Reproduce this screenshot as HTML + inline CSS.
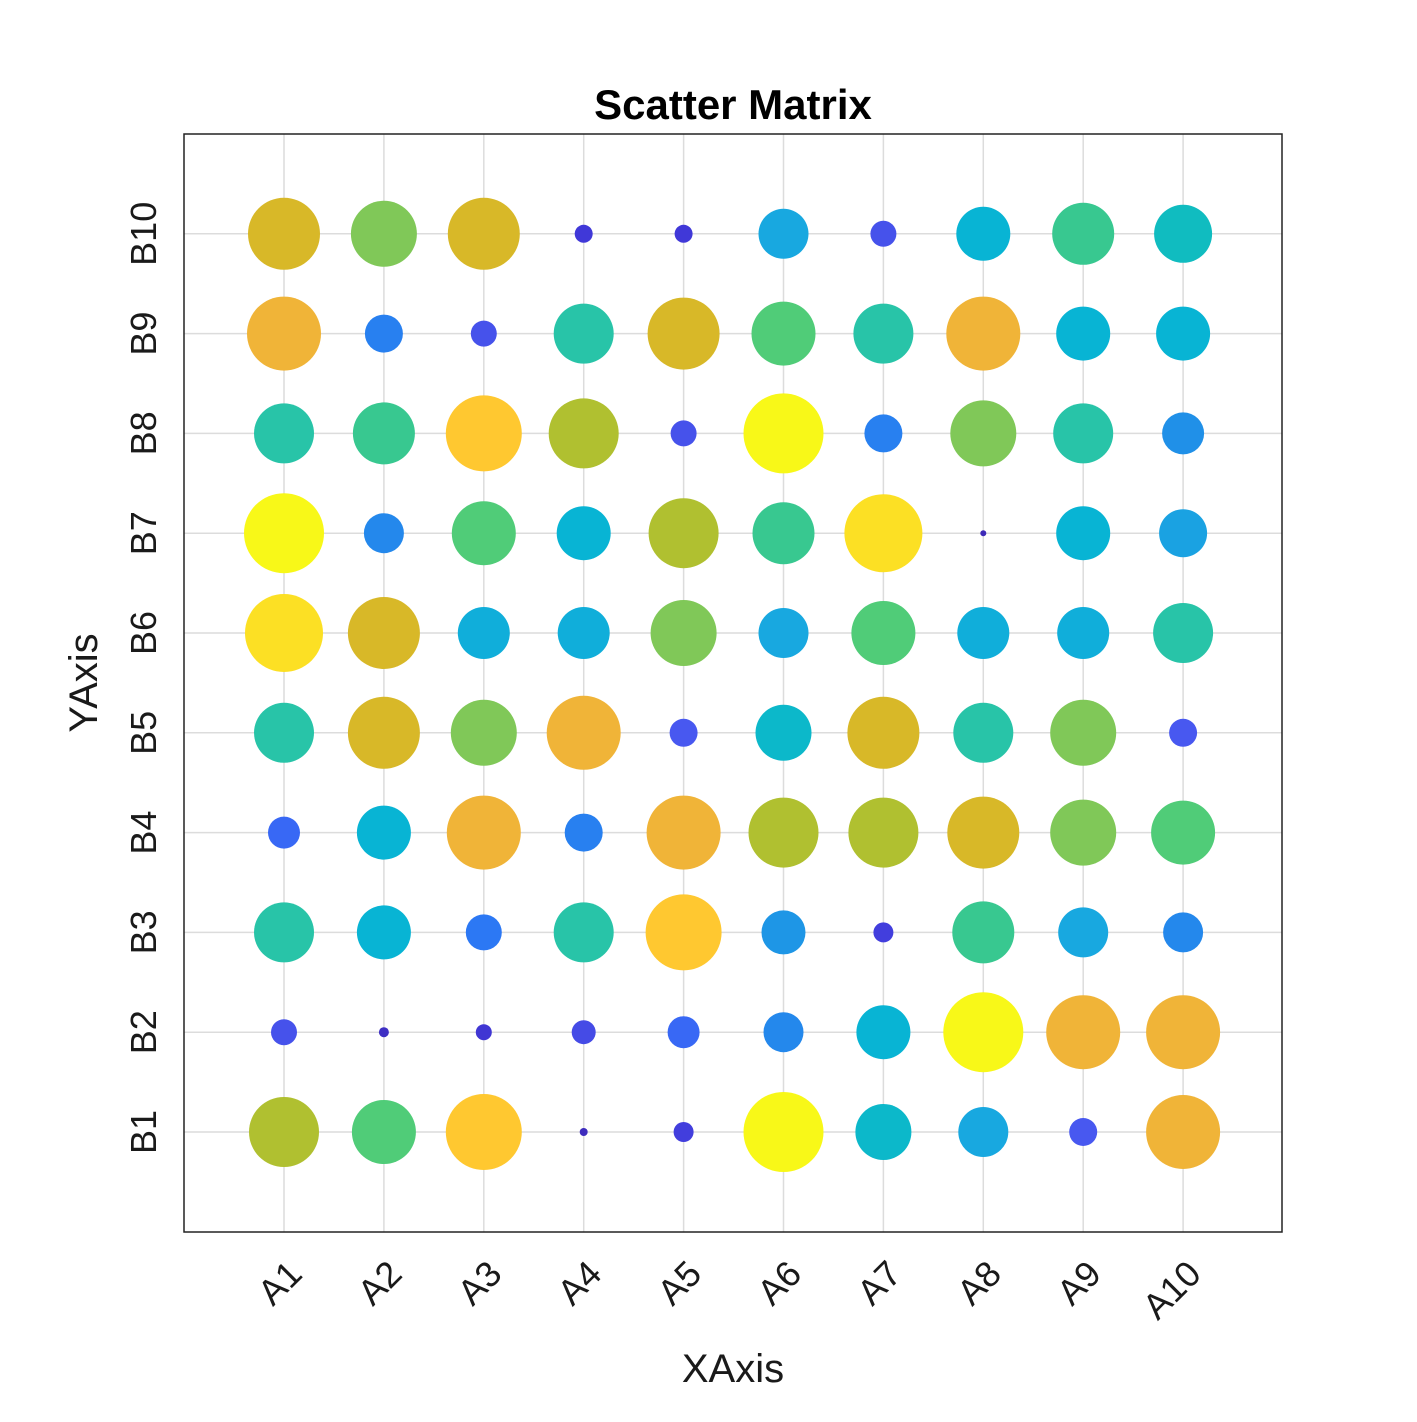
<!DOCTYPE html>
<html><head><meta charset="utf-8"><style>
html,body{margin:0;padding:0;background:#fff}
svg text{font-family:"Liberation Sans",Arial,sans-serif;fill:#1a1a1a}
</style></head><body>
<svg id="chart" width="1417" height="1417" viewBox="0 0 1417 1417" xmlns="http://www.w3.org/2000/svg">
<rect width="1417" height="1417" fill="#fff"/>
<g id="grid"></g>
<g id="marks"></g>
<rect x="184" y="134" width="1098" height="1098" fill="none" stroke="#222" stroke-width="1.5"/>
<g id="xticks"></g>
<g id="yticks"></g>
<text x="733" y="119" text-anchor="middle" font-size="42" font-weight="bold" style="fill:#000">Scatter Matrix</text>
<text x="733" y="1382" text-anchor="middle" font-size="40">XAxis</text>
<text x="0" y="0" text-anchor="middle" font-size="40" transform="translate(97,683) rotate(-90)">YAxis</text>
</svg>
<script>
const xCats = ["A1","A2","A3","A4","A5","A6","A7","A8","A9","A10"];
const yCats = ["B1","B2","B3","B4","B5","B6","B7","B8","B9","B10"];
// values per row B1..B10, columns A1..A10 (0..40 scale)
const rowB1  = [35,32,38,4,10,40,28,25,14,37];
const rowB2  = [13,5,8,12,16,20,27,40,37,37];
const rowB3  = [30,27,18,30,38,22,10,31,25,20];
const rowB4  = [16,27,37,19,37,35,35,36,33,32];
const rowB5  = [30,36,33,37,14,28,36,30,33,14];
const rowB6  = [39,36,26,26,33,25,32,26,26,30];
const rowB7  = [40,20,32,27,35,31,39,3,27,24];
const rowB8  = [30,31,38,35,13,40,19,33,30,21];
const rowB9  = [37,19,13,30,36,32,30,37,27,27];
const rowB10 = [36,33,36,9,9,25,13,27,31,29];
const rows = [rowB1,rowB2,rowB3,rowB4,rowB5,rowB6,rowB7,rowB8,rowB9,rowB10];

const NS="http://www.w3.org/2000/svg";
const xPos = i => 284 + i*99.9;
const yPos = j => 1132 - j*99.8;
const rScale = v => Math.max(3, v);
const stops=[[3,"#3d2ab8"],[9,"#4038d8"],[14,"#4858f0"],[17,"#3070f8"],[21,"#2090e8"],[25,"#18a8e0"],[27,"#08b4d4"],[29,"#10bcc0"],[30,"#28c4a8"],[31,"#38c890"],[32,"#50cc78"],[33,"#80c858"],[35,"#b0c030"],[36,"#d8b828"],[37,"#f0b438"],[38,"#ffc830"],[40,"#f8f818"]];
function hex(h){return [1,3,5].map(i=>parseInt(h.substr(i,2),16));}
function color(v){
  if(v<=stops[0][0])return stops[0][1];
  for(let k=1;k<stops.length;k++){
    if(v<=stops[k][0]){
      const a=stops[k-1],b=stops[k],t=(v-a[0])/(b[0]-a[0]);
      const ca=hex(a[1]),cb=hex(b[1]);
      return "rgb("+ca.map((c,i)=>Math.round(c+(cb[i]-c)*t)).join(",")+")";
    }
  }
  return stops[stops.length-1][1];
}
const grid=document.getElementById("grid");
for(let i=0;i<10;i++){
  const l=document.createElementNS(NS,"line");
  l.setAttribute("x1",xPos(i));l.setAttribute("x2",xPos(i));l.setAttribute("y1",134);l.setAttribute("y2",1232);
  l.setAttribute("stroke","#dcdcdc");l.setAttribute("stroke-width","1.5");
  
  
  grid.appendChild(l);
  const h=document.createElementNS(NS,"line");
  h.setAttribute("y1",yPos(i));h.setAttribute("y2",yPos(i));h.setAttribute("x1",184);h.setAttribute("x2",1282);
  h.setAttribute("stroke","#dcdcdc");h.setAttribute("stroke-width","1.5");
  
  
  grid.appendChild(h);
}
const marks=document.getElementById("marks");
rows.forEach((row,j)=>row.forEach((v,i)=>{
  const c=document.createElementNS(NS,"circle");
  c.setAttribute("cx",xPos(i));c.setAttribute("cy",yPos(j));c.setAttribute("r",rScale(v));
  c.setAttribute("fill",color(v));
  
  
  marks.appendChild(c);
}));
const xt=document.getElementById("xticks");
xCats.forEach((s,i)=>{
  const t=document.createElementNS(NS,"text");
  const x=xPos(i)+20,y=1276;
  t.setAttribute("x",x);t.setAttribute("y",y);t.setAttribute("text-anchor","end");
  t.setAttribute("font-size","36");t.setAttribute("transform","rotate(-45 "+x+" "+y+")");
  t.textContent=s;
  
  
  xt.appendChild(t);
});
const yt=document.getElementById("yticks");
yCats.forEach((s,j)=>{
  const t=document.createElementNS(NS,"text");
  const x=156,y=yPos(j);
  t.setAttribute("x",x);t.setAttribute("y",y);t.setAttribute("text-anchor","middle");
  t.setAttribute("font-size","36");t.setAttribute("transform","rotate(-90 "+x+" "+y+")");
  t.textContent=s;
  
  
  yt.appendChild(t);
});
</script>
</body></html>
